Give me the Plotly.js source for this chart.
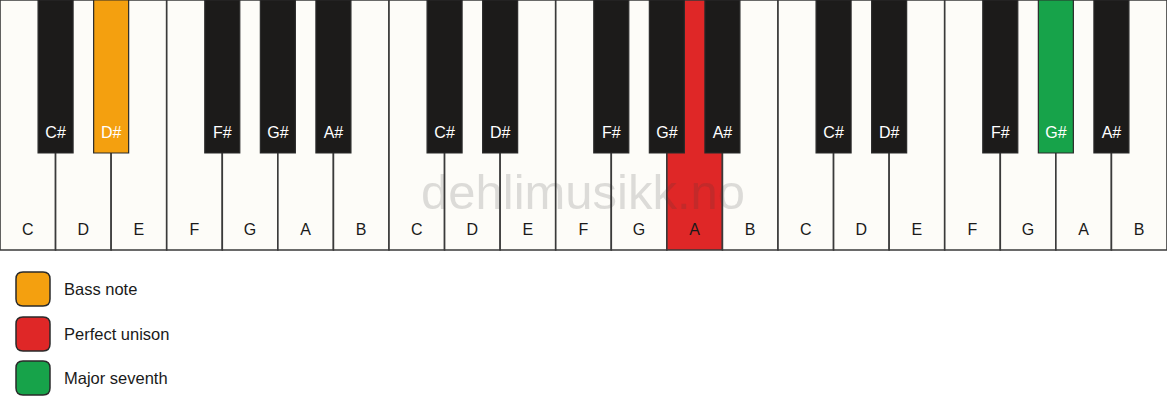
<!DOCTYPE html>
<html>
<head>
<meta charset="utf-8">
<script src="https://cdn.plot.ly/plotly-3.0.1.min.js"></script>
<style>
  html, body { margin: 0; padding: 0; background: #ffffff; }
  #chart { width: 1167px; height: 417px; }
</style>
</head>
<body>
<div id="chart"></div>
<script>
// three octaves, C to B
var whiteNames = ['C','D','E','F','G','A','B','C','D','E','F','G','A','B','C','D','E','F','G','A','B'];
var blackNames = ['C#','D#','F#','G#','A#','C#','D#','F#','G#','A#','C#','D#','F#','G#','A#'];
// black keys sit on these white key boundaries
var blackPos = [1,2,4,5,6,8,9,11,12,13,15,16,18,19,20];
var whiteHeight = 250;
var blackHeight = 153;

// highlighted notes: index into the white / black lists
var highlightWhite = {12: '#df2727'};            // A  - perfect unison
var highlightBlack = {1: '#f4a00f', 13: '#17a34a'}; // D# - bass note, G# - major seventh

var legendNames = ['Bass note', 'Perfect unison', 'Major seventh'];
var legendColors = ['#f4a00f', '#df2727', '#17a34a'];

var W = 1167, H = 417;
var font = 'Liberation Sans, Arial, sans-serif';

var wx = whiteNames.map(function (n, i) { return i + 0.5; });
var wColors = whiteNames.map(function (n, i) { return highlightWhite[i] || '#fdfcf8'; });
var bColors = blackNames.map(function (n, i) { return highlightBlack[i] || '#1c1b1a'; });

var whiteKeys = {
  type: 'bar', x: wx, y: whiteNames.map(function () { return whiteHeight; }),
  base: 0, width: 1,
  marker: { color: wColors, line: { color: '#3a3a3a', width: 1.6 } },
  hoverinfo: 'skip', cliponaxis: false
};
var blackKeys = {
  type: 'bar', x: blackPos, y: blackNames.map(function () { return blackHeight; }),
  base: 0, width: 0.63,
  marker: { color: bColors, line: { color: '#2a2a2a', width: 1.2 } },
  hoverinfo: 'skip', cliponaxis: false
};
var whiteLabels = {
  type: 'scatter', mode: 'text', x: wx, y: whiteNames.map(function () { return 231; }),
  text: whiteNames, textposition: 'middle center',
  textfont: { family: font, size: 16, color: '#1a1a1a' }, hoverinfo: 'skip'
};
var blackLabels = {
  type: 'scatter', mode: 'text', x: blackPos, y: blackNames.map(function () { return 134; }),
  text: blackNames, textposition: 'middle center',
  textfont: { family: font, size: 16, color: '#ffffff' }, hoverinfo: 'skip'
};

function roundRect(x0, y0, x1, y1, r) {
  function px(v) { return (v / W).toFixed(5); }
  return 'M ' + px(x0 + r) + ',' + y0 +
    ' L ' + px(x1 - r) + ',' + y0 + ' Q ' + px(x1) + ',' + y0 + ' ' + px(x1) + ',' + (y0 + r) +
    ' L ' + px(x1) + ',' + (y1 - r) + ' Q ' + px(x1) + ',' + y1 + ' ' + px(x1 - r) + ',' + y1 +
    ' L ' + px(x0 + r) + ',' + y1 + ' Q ' + px(x0) + ',' + y1 + ' ' + px(x0) + ',' + (y1 - r) +
    ' L ' + px(x0) + ',' + (y0 + r) + ' Q ' + px(x0) + ',' + y0 + ' ' + px(x0 + r) + ',' + y0 + ' Z';
}

var legendTop = [272, 317, 361];
var shapes = legendColors.map(function (c, i) {
  return {
    type: 'path', xref: 'paper', yref: 'y',
    path: roundRect(16, legendTop[i], 50, legendTop[i] + 34, 7),
    fillcolor: c, line: { color: '#2a2a2a', width: 1.5 }
  };
});

var annotations = legendNames.map(function (t, i) {
  return {
    xref: 'paper', yref: 'y', x: 62 / W, y: legendTop[i] + 17,
    xanchor: 'left', yanchor: 'middle', showarrow: false, text: t,
    font: { family: font, size: 16.5, color: '#1a1a1a' }
  };
});
annotations.push({
  xref: 'paper', yref: 'y', x: 583 / W, y: 192, xanchor: 'center', yanchor: 'middle',
  showarrow: false, text: 'dehlimusikk.no',
  font: { family: font, size: 49, color: 'rgba(60,60,60,0.17)' }
});

var layout = {
  width: W, height: H,
  margin: { l: 0, r: 0, t: 0, b: 0, pad: 0 },
  paper_bgcolor: '#ffffff', plot_bgcolor: '#ffffff',
  showlegend: false, barmode: 'overlay',
  xaxis: { range: [0, 21], visible: false, fixedrange: true },
  yaxis: { range: [H, 0], visible: false, fixedrange: true },
  shapes: shapes,
  annotations: annotations
};

Plotly.newPlot('chart', [whiteKeys, blackKeys, whiteLabels, blackLabels], layout, { displayModeBar: false, staticPlot: true });
</script>
</body>
</html>
